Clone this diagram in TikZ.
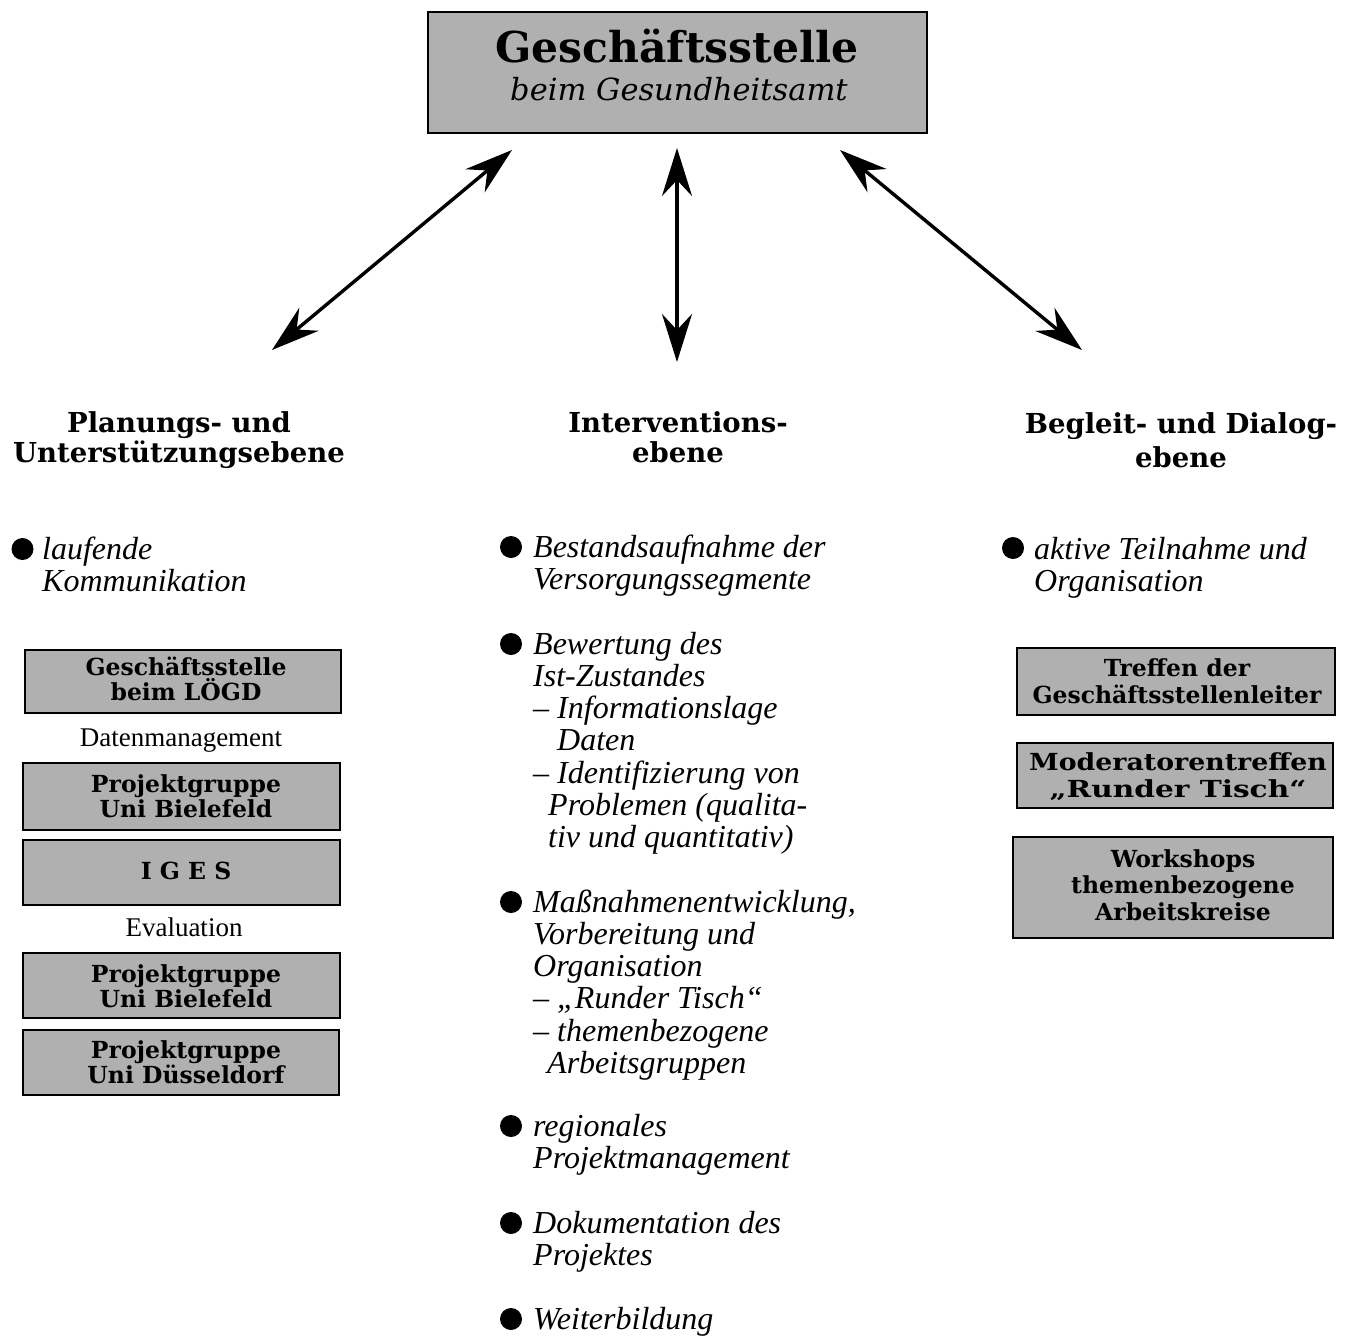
\documentclass[tikz,border=0pt]{standalone}
\usepackage{fontspec}
\usepackage{graphicx}
\setmainfont{Liberation Serif}
\newfontfamily\slab{DejaVu Serif}
\usetikzlibrary{arrows.meta}
\definecolor{halftone}{gray}{0.69}
\newcommand\ctr[1]{\vtop{\halign{\hfil##\hfil\cr#1\crcr}}}
\newcommand\lft[1]{\vtop{\halign{##\hfil\cr#1\crcr}}}
\tikzset{
  graybox/.style={draw=black, line width=2.8pt, fill=halftone, inner sep=0pt},
  boxtxt/.style={font=\slab\bfseries\fontsize{23.5}{25.5}\selectfont, anchor=base, inner sep=0pt},
  head/.style={font=\slab\bfseries\fontsize{27.5}{30}\selectfont, anchor=base, inner sep=0pt},
  itemtxt/.style={font=\itshape\fontsize{32}{32.3}\selectfont, anchor=base west, inner sep=0pt},
  bul/.style={circle, fill=black, minimum size=22pt, inner sep=0pt},
  tip/.tip={Stealth[length=48pt,width=30pt,inset=16pt]},
  dbl/.style={line width=3.4pt, tip-tip},
  plaintxt/.style={font=\fontsize{27}{30}\selectfont, anchor=base, inner sep=0pt}
}
\begin{document}
\begin{tikzpicture}[x=1pt,y=-1pt]
\useasboundingbox (0,0) rectangle (1353,1336);
% top box
\node[graybox, minimum width=499pt, minimum height=121pt] (gs) at (677.5,72.5) {};
\node[font=\slab\bfseries\fontsize{42.5}{42}\selectfont, anchor=base, inner sep=0pt] (gst) at (677,62) {Geschäftsstelle};
\node[font=\slab\itshape\fontsize{30.5}{30}\selectfont, anchor=base, inner sep=0pt] (gsb) at (679,100) {beim Gesundheitsamt};
% headings
\node[head] (hl) at (179,432) {\ctr{Planungs- und\cr Unterstützungsebene}};
\node[head] (hm) at (678,432) {\ctr{Interventions-\cr ebene}};
\node[head, font=\slab\bfseries\fontsize{27.5}{34}\selectfont] (hr) at (1181,433) {\ctr{Begleit- und Dialog-\cr ebene}};
% arrows
\coordinate (l1) at (512,150); \coordinate (l2) at (272,350);
\coordinate (m1) at (677,148); \coordinate (m2) at (677,362);
\coordinate (r1) at (840,150); \coordinate (r2) at (1082,350);
\draw[dbl] (l1) -- (l2);
\draw[dbl] (m1) -- (m2);
\draw[dbl] (r1) -- (r2);
% left column
\node[bul] (bl1) at (22.5,549) {};
\node[itemtxt] (tl1) at (42,559) {\lft{laufende\cr Kommunikation}};
\node[graybox, minimum width=316pt, minimum height=63pt] (lb1) at (183,681.5) {};
\node[boxtxt] (lt1) at (186,675) {\ctr{Geschäftsstelle\cr beim LÖGD}};
\node[plaintxt] (dm) at (181,746) {Datenmanagement};
\node[graybox, minimum width=317pt, minimum height=67pt] (lb2) at (181.5,796.5) {};
\node[boxtxt] (lt2) at (186,792) {\ctr{Projektgruppe\cr Uni Bielefeld}};
\node[graybox, minimum width=317pt, minimum height=65pt] (lb3) at (181.5,872.5) {};
\node[boxtxt] (lt3) at (186,879) {I G E S};
\node[plaintxt] (ev) at (184,936) {Evaluation};
\node[graybox, minimum width=317pt, minimum height=65pt] (lb4) at (181.5,985.5) {};
\node[boxtxt] (lt4) at (186,982) {\ctr{Projektgruppe\cr Uni Bielefeld}};
\node[graybox, minimum width=316pt, minimum height=65pt] (lb5) at (181,1062.5) {};
\node[boxtxt] (lt5) at (186,1058) {\ctr{Projektgruppe\cr Uni Düsseldorf}};
% middle column
\node[bul] (bm1) at (511,547) {};
\node[itemtxt] (tm1) at (533,557) {\lft{Bestandsaufnahme der\cr Versorgungssegmente}};
\node[bul] (bm2) at (511,644) {};
\node[itemtxt] (tm2) at (533,654) {\lft{Bewertung des\cr Ist-Zustandes\cr – Informationslage\cr \hspace*{24pt}Daten\cr – Identifizierung von\cr \hspace*{15pt}Problemen (qualita-\cr \hspace*{15pt}tiv und quantitativ)}};
\node[bul] (bm3) at (511,902) {};
\node[itemtxt] (tm3) at (533,912) {\lft{Maßnahmenentwicklung,\cr Vorbereitung und\cr Organisation\cr – „Runder Tisch“\cr – themenbezogene\cr \hspace*{14pt}Arbeitsgruppen}};
\node[bul] (bm4) at (511,1126) {};
\node[itemtxt] (tm4) at (533,1136) {\lft{regionales\cr Projektmanagement}};
\node[bul] (bm5) at (511,1223) {};
\node[itemtxt] (tm5) at (533,1233) {\lft{Dokumentation des\cr Projektes}};
\node[bul] (bm6) at (511,1319) {};
\node[itemtxt] (tm6) at (533,1329) {Weiterbildung};
% right column
\node[bul] (br1) at (1013,548) {};
\node[itemtxt] (tr1) at (1034,559) {\lft{aktive Teilnahme und\cr Organisation}};
\node[graybox, minimum width=318pt, minimum height=67pt] (rb1) at (1176,681.5) {};
\node[boxtxt, font=\slab\bfseries\fontsize{23.5}{27}\selectfont] (rt1) at (1177,676) {\ctr{Treffen der\cr Geschäftsstellenleiter}};
\node[graybox, minimum width=316pt, minimum height=65pt] (rb2) at (1175,775.5) {};
\node[boxtxt, font=\slab\bfseries\fontsize{23.5}{27}\selectfont] (rt2) at (1178,770) {\ctr{\scalebox{1.14}[1]{Moderatorentreffen}\cr \scalebox{1.26}[1]{„Runder Tisch“}}};
\node[graybox, minimum width=320pt, minimum height=101pt] (rb3) at (1173,887.5) {};
\node[boxtxt, font=\slab\bfseries\fontsize{23.5}{26.5}\selectfont] (rt3) at (1183,867) {\ctr{Workshops\cr themenbezogene\cr Arbeitskreise}};
\end{tikzpicture}
\end{document}
